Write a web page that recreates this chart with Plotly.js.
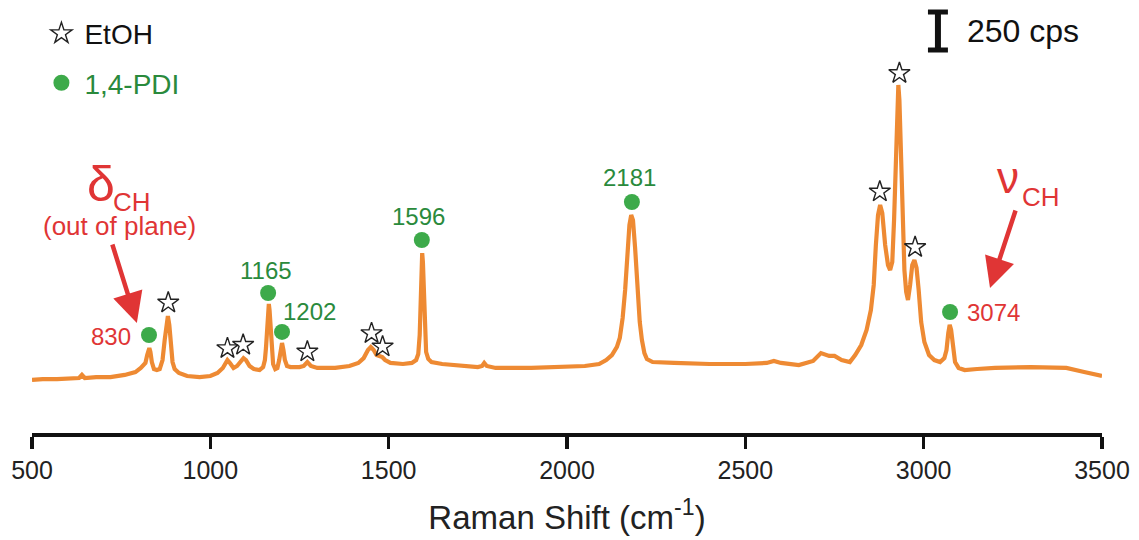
<!DOCTYPE html>
<html>
<head>
<meta charset="utf-8">
<script src="https://cdn.plot.ly/plotly-3.0.1.min.js"></script>
<style>html,body{margin:0;padding:0;background:#fff;}#chart{width:1139px;height:540px;}</style>
</head>
<body>
<div id="chart"></div>
<script>
// ---- Data (Raman shift in cm^-1, intensity in cps) ----
const ramanShift = [500,530,570,610,632,640,648,680,720,760,790,805,812,818,823,826,829,832,836,842,850,858,866,872,877,881,885,889,894,900,912,935,970,1000,1020,1035,1042,1048,1055,1065,1075,1085,1093,1100,1110,1122,1138,1148,1153,1156,1159,1162,1164,1166,1169,1172,1176,1182,1188,1193,1197,1201,1205,1209,1215,1225,1250,1262,1272,1282,1300,1350,1390,1415,1430,1442,1450,1458,1466,1474,1482,1490,1505,1540,1565,1577,1583,1587,1590,1592,1594,1596,1598,1601,1605,1611,1620,1650,1700,1750,1762,1768,1775,1800,1900,2000,2050,2090,2110,2126,2140,2148,2156,2163,2169,2175,2180,2185,2191,2197,2204,2210,2217,2224,2240,2300,2400,2500,2560,2580,2600,2650,2690,2712,2722,2735,2750,2770,2793,2808,2825,2840,2852,2860,2866,2872,2878,2884,2892,2900,2906,2912,2917,2922,2926,2929,2932,2936,2940,2946,2951,2956,2962,2968,2974,2980,2986,2993,3002,3015,3030,3046,3058,3064,3069,3073,3077,3082,3088,3098,3115,3150,3200,3300,3400,3450,3480,3500];
const intensity = [349,355,355,362,362,382,362,368,368,382,401,428,447,461,513,546,559,533,467,421,414,421,480,612,730,770,711,579,467,421,395,375,368,375,395,428,461,480,461,428,441,474,493,480,441,421,414,434,480,559,711,836,849,809,691,533,454,421,428,480,559,592,546,480,441,434,434,441,467,441,428,428,441,461,493,546,566,546,513,507,500,480,461,454,461,480,520,645,908,1125,1184,1125,941,678,533,487,467,454,441,434,441,461,441,428,428,434,441,454,480,513,566,625,757,941,1171,1368,1434,1401,1217,941,730,612,526,487,467,461,454,454,461,474,461,447,474,526,520,507,507,480,467,513,579,678,809,974,1237,1434,1500,1447,1237,1105,1072,1125,1401,1862,2191,2290,2191,1862,1434,1072,928,875,974,1105,1138,1086,941,730,599,513,480,467,493,546,658,711,678,559,467,428,414,421,428,434,428,401,388,375];

// EtOH band markers (stars)
const etohShift = [882,1048,1092,1272,1452,1483,2877,2932,2976];
const etohMark  = [857,557,579,535,656,568,1588,2367,1222];

// 1,4-PDI band markers (dots) and labels
const pdiLabels = ['830','1165','1202','1596','2181','3074'];
const pdiShift  = [828,1162,1201,1593,2182,3074];
const pdiMark   = [645,921,665,1270,1520,796];

// Axis ticks
const tickValues = [500,1000,1500,2000,2500,3000,3500];
const tickLabels = ['500','1000','1500','2000','2500','3000','3500'];

// Scale bar
const scaleBarCps = 250;

// ---- Styling / layout ----
const ORANGE = '#EE8A33';
const GREEN_DOT = '#3DAA4A';
const GREEN_TXT = '#2A8A3C';
const RED = '#E03535';
const FONT = 'Liberation Sans, Arial, Helvetica, sans-serif';

const spectrum = {
  x: ramanShift, y: intensity, type: 'scatter', mode: 'lines',
  line: {color: ORANGE, width: 4.2}, showlegend: false, hoverinfo: 'skip'
};
const etoh = {
  x: etohShift, y: etohMark, type: 'scatter', mode: 'markers', name: 'EtOH',
  legendgroup: 'a',
  marker: {symbol: 'star-open', size: 16, color: '#222', line: {width: 1.4, color: '#222'}},
  cliponaxis: false
};
const pdi = {
  x: pdiShift, y: pdiMark, type: 'scatter', mode: 'markers',
  name: '<span style="color:' + GREEN_TXT + '">1,4-PDI</span>',
  legendgroup: 'b',
  marker: {symbol: 'circle', size: 16, color: GREEN_DOT},
  cliponaxis: false
};

// Label offsets (pixels) relative to dot
const labelPos = [
  {dx: -38, dy: 2, color: RED},
  {dx: -2, dy: -23, color: GREEN_TXT},
  {dx: 27, dy: -20, color: GREEN_TXT},
  {dx: -3, dy: -23, color: GREEN_TXT},
  {dx: -2, dy: -24, color: GREEN_TXT},
  {dx: 43, dy: 0, color: RED}
];
const annotations = pdiLabels.map((t, i) => ({
  x: pdiShift[i], y: pdiMark[i], xref: 'x', yref: 'y', text: t,
  showarrow: false, xshift: labelPos[i].dx, yshift: -labelPos[i].dy,
  font: {family: FONT, size: 24, color: labelPos[i].color}
}));

// delta_CH (out of plane)
annotations.push({x: 693, y: 1640, xref: 'x', yref: 'y', text: 'δ', showarrow: false,
  font: {family: FONT, size: 50, color: RED}});
annotations.push({x: 780, y: 1520, xref: 'x', yref: 'y', text: 'CH', showarrow: false,
  font: {family: FONT, size: 26, color: RED}});
annotations.push({x: 744, y: 1362, xref: 'x', yref: 'y', text: '(out of plane)', showarrow: false,
  font: {family: FONT, size: 26, color: RED}});
annotations.push({x: 794, y: 724, ax: 724, ay: 1250, xref: 'x', yref: 'y', axref: 'x', ayref: 'y',
  text: '', showarrow: true, arrowhead: 2, arrowsize: 1.35, arrowwidth: 4.5, arrowcolor: RED});
// nu_CH
annotations.push({x: 3236, y: 1680, xref: 'x', yref: 'y', text: 'ν', showarrow: false,
  font: {family: FONT, size: 44, color: RED}});
annotations.push({x: 3328, y: 1553, xref: 'x', yref: 'y', text: 'CH', showarrow: false,
  font: {family: FONT, size: 26, color: RED}});
annotations.push({x: 3186, y: 954, ax: 3259, ay: 1474, xref: 'x', yref: 'y', axref: 'x', ayref: 'y',
  text: '', showarrow: true, arrowhead: 2, arrowsize: 1.35, arrowwidth: 4.5, arrowcolor: RED});
// scale bar label
const sbX = 3040, sbBase = 2520, sbHalf = 28;
annotations.push({x: 3116, y: sbBase + scaleBarCps / 2, xref: 'x', yref: 'y', xanchor: 'left',
  text: scaleBarCps + ' cps', showarrow: false, font: {family: FONT, size: 32, color: '#111'}});

const shapes = [
  {type: 'line', xref: 'x', yref: 'y', x0: sbX, x1: sbX, y0: sbBase, y1: sbBase + scaleBarCps, line: {color: '#111', width: 6}},
  {type: 'line', xref: 'x', yref: 'y', x0: sbX - sbHalf, x1: sbX + sbHalf, y0: sbBase, y1: sbBase, line: {color: '#111', width: 5}},
  {type: 'line', xref: 'x', yref: 'y', x0: sbX - sbHalf, x1: sbX + sbHalf, y0: sbBase + scaleBarCps, y1: sbBase + scaleBarCps, line: {color: '#111', width: 5}}
];

const layout = {
  width: 1139, height: 540,
  margin: {l: 32, r: 37, t: 0, b: 107, autoexpand: false},
  paper_bgcolor: '#fff', plot_bgcolor: '#fff',
  font: {family: FONT, color: '#222'},
  showlegend: true,
  legend: {
    xref: 'paper', yref: 'paper', x: 0.006, y: 0.98, xanchor: 'left', yanchor: 'top',
    font: {family: FONT, size: 28, color: '#111'}, bgcolor: 'rgba(0,0,0,0)',
    tracegroupgap: 10, itemsizing: 'trace', itemwidth: 36
  },
  xaxis: {
    range: [500, 3500], showgrid: false, zeroline: false,
    showline: true, linecolor: '#111', linewidth: 3.5, mirror: false,
    ticks: 'outside', ticklen: 12, tickwidth: 3.5, tickcolor: '#111',
    tickvals: tickValues, ticktext: tickLabels,
    tickfont: {family: FONT, size: 25, color: '#222'},
    title: {text: 'Raman Shift (cm<sup>-1</sup>)', font: {family: FONT, size: 33, color: '#222'}, standoff: 24},
    fixedrange: true
  },
  yaxis: {range: [0, 2849], visible: false, fixedrange: true},
  annotations: annotations,
  shapes: shapes,
  hovermode: false
};

Plotly.newPlot('chart', [spectrum, etoh, pdi], layout, {displayModeBar: false, staticPlot: true});
</script>
</body>
</html>
